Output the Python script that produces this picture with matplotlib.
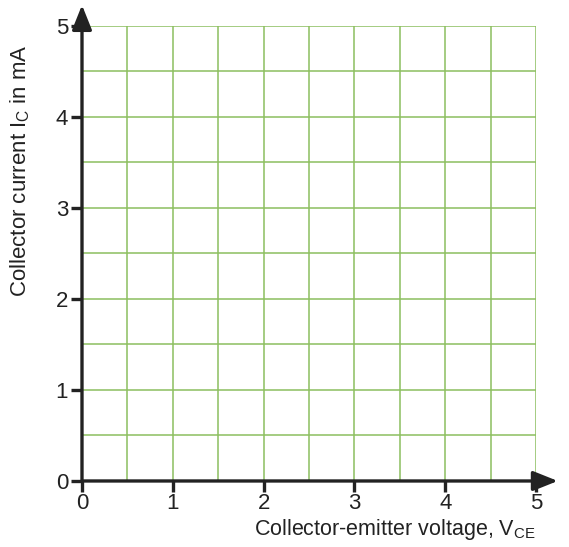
import matplotlib.pyplot as plt
import numpy as np

plt.rcParams["font.family"] = ["Liberation Sans", "DejaVu Sans"]
plt.rcParams["mathtext.fontset"] = "custom"
plt.rcParams["mathtext.rm"] = "Liberation Sans"

# axis values
x_ticks = [0, 1, 2, 3, 4, 5]
y_ticks = [0, 1, 2, 3, 4, 5]
grid_steps = [0.5, 1.0, 1.5, 2.0, 2.5, 3.0, 3.5, 4.0, 4.5, 5.0]
x_max = 5
y_max = 5

fig = plt.figure(figsize=(5.69, 5.47), dpi=100)
ax = fig.add_axes([0.1441, 0.1207, 0.7979, 0.8318])
ax.set_xlim(0, x_max)
ax.set_ylim(0, y_max)

grid_col = "#8cbf5f"
for g in grid_steps:
    ax.plot([g, g], [0, y_max], color=grid_col, lw=1.1, zorder=1)
    ax.plot([0, x_max], [g, g], color=grid_col, lw=1.1, zorder=1)

for s in ax.spines.values():
    s.set_visible(False)

# axes with arrows
arrow = dict(arrowstyle="-|>,head_length=0.75,head_width=0.3",
             color="#222222", lw=2.4, shrinkA=0, shrinkB=0, mutation_scale=20)
ax.annotate("", xy=(5.24, 0), xytext=(0, 0), arrowprops=arrow,
            annotation_clip=False, zorder=3)
ax.annotate("", xy=(0, 5.23), xytext=(0, 0), arrowprops=arrow,
            annotation_clip=False, zorder=3)

ax.set_xticks(x_ticks)
ax.set_yticks(y_ticks)
ax.tick_params(direction="out", length=8, width=2.4, color="#222222",
               labelsize=16, labelcolor="#222222", pad=1)
ax.tick_params(axis="y", pad=2)

ax.set_xlabel(r"Collector-emitter voltage, V$_{\mathregular{CE}}$",
              fontsize=15.5, color="#222222", loc="right", labelpad=2)
ax.set_ylabel(r"Collector current I$_{\mathregular{C}}$ in mA",
              fontsize=16, color="#222222")
ax.yaxis.set_label_coords(-0.11, 0.683)

fig.savefig("out.png", dpi=100)
